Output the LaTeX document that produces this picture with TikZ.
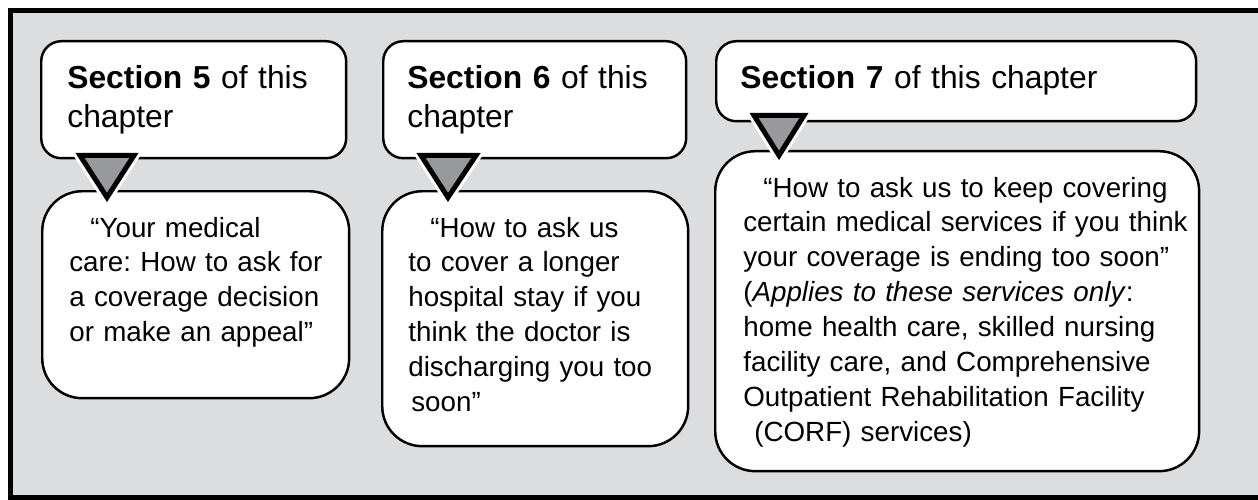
\documentclass[tikz,border=0pt]{standalone}
\usepackage{fontspec}
\setmainfont{Liberation Sans}
\usetikzlibrary{calc}
\frenchspacing

\definecolor{panelgray}{RGB}{220,221,223}
\definecolor{arrowgray}{RGB}{152,153,157}

\begin{document}
\begin{tikzpicture}[x=0.02cm,y=-0.02cm,
    headbox/.style={draw,fill=white,line width=1.4pt,rounded corners=0.4cm,
      anchor=north west,inner sep=0pt,minimum height=2.34cm},
    bodybox/.style={draw,fill=white,line width=1.4pt,rounded corners=0.8cm,
      anchor=north west,inner sep=0pt},
    headtext/.style={anchor=base west,inner sep=0pt,align=left,text width=9.3cm,
      font=\fontsize{18.1}{22.2}\selectfont},
    bodytext/.style={anchor=base west,inner sep=0pt,align=left,text width=9.3cm,
      font=\fontsize{15.8}{19.9}\selectfont},
    pointer/.style={preaction={draw=white,line width=0.22cm},
      fill=arrowgray,draw=black,line width=0.1cm}]

    \useasboundingbox (0,0) rectangle (1258,500);
    \fill[panelgray] (10.5,10.5) rectangle (1258,497.5);
    \draw[line width=0.1cm] (1258,10.5) -- (10.5,10.5) -- (10.5,497.5) -- (1258,497.5);

    \node (secA) [headbox,minimum width=6.10cm] at (40,40) {};
    \node (secB) [headbox,minimum width=6.06cm] at (382,40) {};
    \node (secC) [headbox,minimum width=9.60cm,minimum height=1.6cm] at (715,40) {};

    \node (bodyA) [bodybox,minimum width=6.14cm,minimum height=4.14cm] at (41,190) {};
    \node (bodyB) [bodybox,minimum width=6.12cm,minimum height=5.10cm] at (381,190) {};
    \node (bodyC) [bodybox,minimum width=9.68cm,minimum height=6.40cm] at (714,150) {};

    \node (secAtext) [headtext] at (67,88.3) {\textbf{Section 5} of this\\chapter};
    \node (secBtext) [headtext] at (407,88.3) {\textbf{Section 6} of this\\chapter};
    \node (secCtext) [headtext] at (740,88.3) {\textbf{Section 7} of this chapter};

    \node (bodyAtext) [bodytext] at (69,237)
      {\hspace*{0.42cm}“Your medical\\care: How to ask for\\a coverage decision\\or make an appeal”};
    \node (bodyBtext) [bodytext] at (408,237)
      {\hspace*{0.44cm}“How to ask us\\to cover a longer\\hospital stay if you\\think the doctor is\\discharging you too\\\hspace*{0.06cm}soon”};
    \node (bodyCtext) [bodytext] at (743,197)
      {\hspace*{0.40cm}“How to ask us to keep covering\\certain medical services if you think\\your coverage is ending too soon”\\(\textit{Applies to these services only}:\\home health care, skilled nursing\\facility care, and Comprehensive\\Outpatient Rehabilitation Facility\\\hspace*{0.22cm}(CORF) services)};

    \draw[pointer] ($(secA.south west)+(40,-4)$) -- ($(secA.south west)+(94,-4)$)
      -- ($(secA.south west)+(67,38)$) -- cycle;
    \draw[pointer] ($(secB.south west)+(39,-4)$) -- ($(secB.south west)+(94,-4)$)
      -- ($(secB.south west)+(66,38)$) -- cycle;
    \draw[pointer] ($(secC.south west)+(39,-7)$) -- ($(secC.south west)+(89,-7)$)
      -- ($(secC.south west)+(64,33)$) -- cycle;
  \end{tikzpicture}
\end{document}
